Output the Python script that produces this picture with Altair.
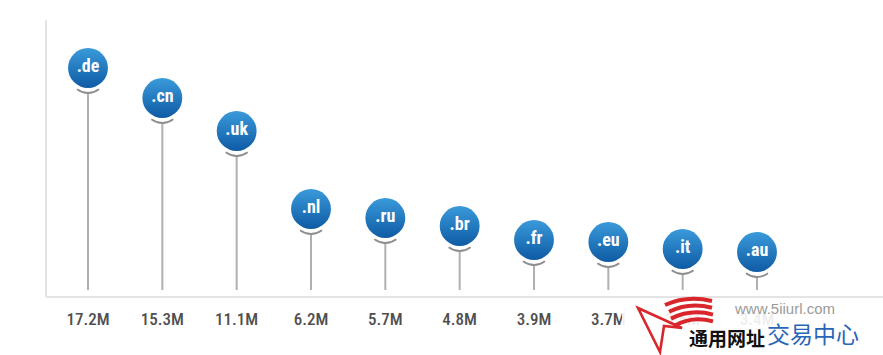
import altair as alt
import pandas as pd

# ---- data ----
tlds = [".de", ".cn", ".uk", ".nl", ".ru", ".br", ".fr", ".eu", ".it", ".au"]
value_labels = ["17.2M", "15.3M", "11.1M", "6.2M", "5.7M", "4.8M", "3.9M", "3.7M", "3.5M", "3.4M"]
pin_height = [222, 192, 159, 81, 72, 64, 50, 48, 41, 38]  # visual pin height above baseline

df = pd.DataFrame({"tld": tlds, "label": value_labels, "pin": pin_height, "base": [0] * len(tlds)})
one = pd.DataFrame({"a": [0]})

COND = "'Roboto Condensed', 'Roboto', sans-serif"

x = alt.X("tld:N", sort=tlds, scale=alt.Scale(type="point", range=[88, 757], padding=0), axis=None)
y = alt.Y("pin:Q", scale=alt.Scale(domain=[0, 270], range=[290, 20]), axis=None)
base = alt.Chart(df).encode(x=x)

grad = alt.Gradient(
    gradient="linear", x1=0, x2=0, y1=0, y2=1,
    stops=[alt.GradientStop(color="#3a9ada", offset=0), alt.GradientStop(color="#0e5ba4", offset=1)],
)

left_axis = alt.Chart(one).mark_rule(color="#e4e4e4", strokeWidth=2).encode(
    x=alt.value(46), y=alt.value(20), y2=alt.value(297))
bottom_axis = alt.Chart(one).mark_rule(color="#e4e4e4", strokeWidth=2).encode(
    x=alt.value(46), x2=alt.value(883), y=alt.value(297))

stems = base.mark_rule(color="#b0b0b0", strokeWidth=2, yOffset=25).encode(y=y, y2="base:Q")
cup_path = "M -1 -0.35 Q 0 0.35 1 -0.35"
cups = base.mark_point(shape=cup_path, size=484, filled=False, stroke="#8f8f8f",
                       strokeWidth=1.8, opacity=1, yOffset=25).encode(y=y)
circles = base.mark_circle(size=1590, fill=grad, opacity=1, strokeWidth=0).encode(y=y)
circle_text = base.mark_text(color="white", fontSize=18, fontWeight="bold", font=COND,
                             baseline="middle", dy=-1).encode(y=y, text="tld:N")
value_text = base.mark_text(color="#505050", fontSize=17, fontWeight=500, font=COND,
                            baseline="middle").encode(y=alt.value(320), text="label:N")

# ---- watermark ----
wm_rect = alt.Chart(one).mark_rect(color="white", opacity=0.9).encode(
    x=alt.value(622), x2=alt.value(883), y=alt.value(298), y2=alt.value(355))
arrow_path = "M -0.925 -0.425 L 0.175 0.075 L -0.275 0.025 L -0.375 0.675 Z"
wave_path = ("M -0.25 -0.5 Q 0.3 -0.75 0.925 -0.6 "
             "M -0.15 -0.33 Q 0.35 -0.58 0.925 -0.43 "
             "M -0.1 -0.16 Q 0.4 -0.41 0.95 -0.26 "
             "M 0.0 0.01 Q 0.45 -0.24 0.95 -0.09")
arrow = alt.Chart(one).mark_point(shape=arrow_path, size=6400, filled=False, stroke="#d8262b",
                                  strokeWidth=2.6, opacity=1).encode(x=alt.value(675), y=alt.value(325))
waves = alt.Chart(one).mark_point(shape=wave_path, size=6400, filled=False, stroke="#d8262b",
                                  strokeWidth=4, opacity=1).encode(x=alt.value(675), y=alt.value(325))
wm_url = alt.Chart(one).mark_text(text="www.5iiurl.com", fontSize=15, color="#9a9a9a",
                                  font="Liberation Sans", align="center", baseline="middle").encode(
    x=alt.value(785), y=alt.value(309))
wm_cn1 = alt.Chart(one).mark_text(text="通用网址", fontSize=19, fontWeight="bold", color="#111111",
                                  font="Noto Sans CJK SC", align="left", baseline="middle").encode(
    x=alt.value(689), y=alt.value(340))
wm_cn2 = alt.Chart(one).mark_text(text="交易中心", fontSize=23, color="#2a66b8",
                                  font="Noto Sans CJK SC", align="left", baseline="middle").encode(
    x=alt.value(767), y=alt.value(336))

chart = alt.layer(
    left_axis, bottom_axis, stems, cups, circles, circle_text, value_text,
    wm_rect, waves, arrow, wm_url, wm_cn1, wm_cn2,
).properties(
    width=883, height=355, padding=0, autosize=alt.AutoSizeParams(type="none"),
    background="white",
).configure_view(stroke=None)

chart.save("out.html", embed_options={"renderer": "svg", "actions": False})
